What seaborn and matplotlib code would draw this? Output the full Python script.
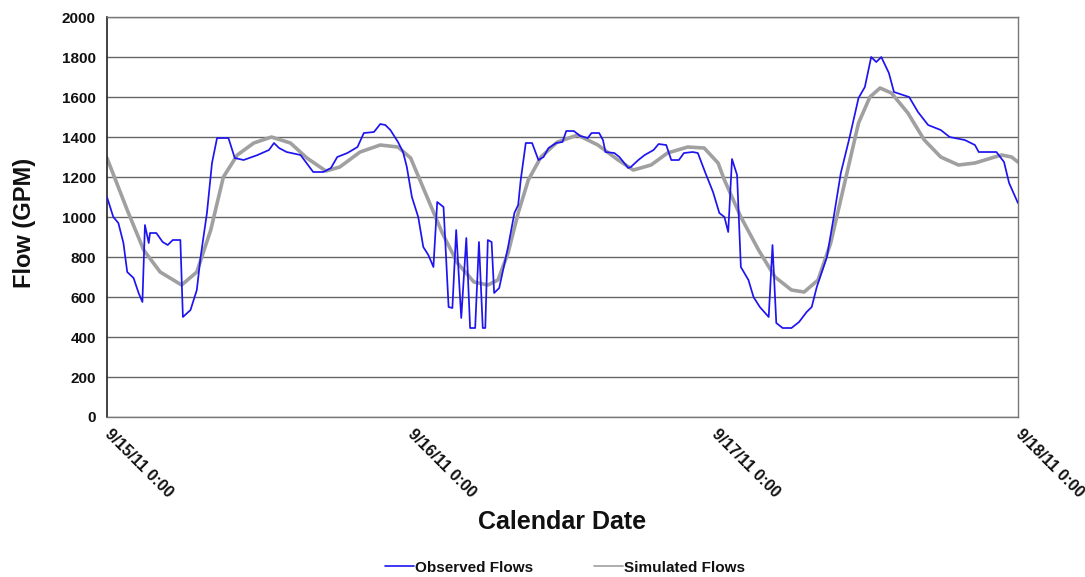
import matplotlib
matplotlib.use("Agg")
import matplotlib.pyplot as plt
import matplotlib.dates as mdates
import numpy as np
import pandas as pd
import seaborn as sns

# Observed flows: (hours after 9/15/11 0:00, GPM)
obs_hours = [0.0, 0.5, 0.9, 1.3, 1.6, 2.1, 2.5, 2.8, 3.0, 3.3, 3.4, 3.9, 4.4, 4.8, 5.2, 5.8,
             6.0, 6.6, 7.1, 7.4, 7.9, 8.3, 8.7, 9.6, 10.1, 10.8, 11.9, 12.8, 13.2, 13.6, 14.2,
             15.3, 16.3, 17.1, 17.7, 18.2, 19.0, 19.8, 20.3, 21.1, 21.6, 22.0, 22.4, 23.0, 23.4,
             23.7, 24.1, 24.6, 25.0, 25.4, 25.8, 26.1, 26.6, 27.0, 27.3, 27.6, 28.0, 28.4, 28.7,
             29.1, 29.4, 29.7, 29.9, 30.1, 30.4, 30.6, 31.0, 31.7, 32.2, 32.5, 32.7, 33.1, 33.6,
             34.1, 34.5, 34.9, 35.5, 36.0, 36.3, 36.9, 37.4, 38.0, 38.3, 38.9, 39.2, 39.4, 40.1,
             40.5, 41.2, 41.4, 42.0, 42.5, 43.2, 43.6, 44.2, 44.6, 45.2, 45.6, 46.3, 46.7, 47.3,
             47.9, 48.4, 48.8, 49.1, 49.4, 49.8, 50.1, 50.7, 51.1, 51.6, 52.3, 52.6, 52.9, 53.4,
             54.1, 54.7, 55.3, 55.7, 56.1, 56.9, 57.4, 58.0, 58.7, 59.4, 59.9, 60.4, 60.8, 61.2,
             61.8, 62.2, 63.4, 64.1, 64.9, 65.9, 66.6, 67.8, 68.6, 68.9, 70.3, 70.9, 71.3, 72.0]
obs_flow = [1100, 1000, 970, 870, 725, 695, 620, 575, 960, 870, 920, 920, 875, 860, 885, 885,
            500, 535, 635, 800, 1020, 1270, 1395, 1395, 1295, 1285, 1310, 1335, 1370, 1345, 1325,
            1310, 1225, 1225, 1245, 1300, 1320, 1350, 1420, 1425, 1465, 1460, 1435, 1375, 1325,
            1250, 1100, 1000, 850, 810, 750, 1075, 1050, 550, 545, 935, 495, 895, 445,
            445, 875, 445, 445, 885, 875, 620, 645, 850, 1020, 1060, 1185, 1370, 1370,
            1285, 1300, 1345, 1370, 1375, 1430, 1430, 1405, 1395, 1420, 1420, 1385, 1325, 1320,
            1300, 1245, 1250, 1285, 1310, 1335, 1365, 1360, 1285, 1285, 1320, 1325, 1320, 1220,
            1125, 1020, 1000, 925, 1290, 1210, 750, 685, 600, 550, 500, 860, 470, 445,
            445, 475, 525, 550, 650, 800, 985, 1220, 1400, 1595, 1650, 1800, 1775, 1800,
            1720, 1625, 1600, 1525, 1460, 1435, 1400, 1385, 1360, 1325, 1325, 1275, 1170, 1070]

# Simulated flows: (hours after 9/15/11 0:00, GPM)
sim_hours = [0.0, 1.6, 2.9, 4.2, 5.9, 7.1, 8.2, 9.2, 10.3, 11.6, 13.0, 14.5, 15.8, 17.3, 18.4,
             20.0, 21.6, 23.0, 24.0, 25.3, 26.5, 27.7, 29.0, 30.1, 30.9, 31.7, 32.5, 33.3, 34.3,
             35.6, 37.2, 38.8, 40.4, 41.6, 43.0, 44.3, 45.9, 47.2, 48.3, 48.8, 50.1, 51.5, 52.8,
             54.1, 55.1, 56.2, 57.2, 58.3, 59.4, 60.3, 61.1, 62.0, 63.3, 64.6, 65.9, 67.3, 68.6,
             69.9, 70.7, 71.5, 72.0]
sim_flow = [1295, 1035, 835, 725, 660, 725, 935, 1200, 1310, 1370, 1400, 1370, 1295, 1230, 1250,
            1325, 1360, 1350, 1295, 1100, 920, 770, 675, 660, 685, 820, 1020, 1185, 1300,
            1375, 1410, 1360, 1285, 1235, 1260, 1320, 1350, 1345, 1270, 1185, 1000, 835, 700,
            635, 625, 685, 870, 1170, 1470, 1600, 1645, 1620, 1520, 1385, 1300, 1260, 1270,
            1295, 1310, 1300, 1275]

y_ticks = list(range(0, 2001, 200))
start = pd.Timestamp("2011-09-15 00:00")
end = pd.Timestamp("2011-09-18 00:00")

obs = pd.DataFrame({"time": start + pd.to_timedelta(obs_hours, unit="h"), "flow": obs_flow})
sim = pd.DataFrame({"time": start + pd.to_timedelta(sim_hours, unit="h"), "flow": sim_flow})

sns.set_theme(style="white")
plt.rcParams["font.family"] = ["Liberation Sans", "DejaVu Sans"]

fig = plt.figure(figsize=(10.85, 5.77), dpi=100)
ax = fig.add_axes([0.0986, 0.2773, 0.8396, 0.6932])

ax.set_axisbelow(True)
for v in y_ticks:
    ax.axhline(v, color="#666666", lw=1.0, zorder=0)

sns.lineplot(data=sim, x="time", y="flow", ax=ax, color="#a0a0a0", lw=2.6,
             label="Simulated Flows", sort=False, zorder=2)
sns.lineplot(data=obs, x="time", y="flow", ax=ax, color="#1e14f0", lw=1.25,
             label="Observed Flows", sort=False, zorder=3)

ax.set_xlim(start, end)
ax.set_ylim(0, 2000)
ax.set_yticks(y_ticks)
ax.set_yticklabels([str(v) for v in y_ticks], fontsize=11, fontweight="bold", color="#111111")

ax.xaxis.set_major_locator(mdates.DayLocator())
ax.xaxis.set_minor_locator(mdates.HourLocator(byhour=[6, 12, 18]))
ax.xaxis.set_major_formatter(plt.FuncFormatter(
    lambda x, pos: f"{mdates.num2date(x).month}/{mdates.num2date(x).day}/11 0:00"))
for lbl in ax.get_xticklabels():
    lbl.set_rotation(-45)
    lbl.set_ha("left")
    lbl.set_va("center")
    lbl.set_rotation_mode("anchor")
    lbl.set_fontsize(11.5)
    lbl.set_fontweight("bold")
    lbl.set_color("#111111")

ax.tick_params(axis="x", which="major", length=4, width=1, color="#555555", direction="inout", pad=9)
ax.tick_params(axis="x", which="minor", length=4, width=1, color="#555555", direction="inout")
ax.tick_params(axis="y", which="major", length=4, width=1, color="#333333", direction="out", pad=4)

for side in ["top", "right", "bottom"]:
    ax.spines[side].set_color("#777777")
    ax.spines[side].set_linewidth(1.0)
ax.spines["left"].set_color("#222222")
ax.spines["left"].set_linewidth(1.2)

ax.set_xlabel("Calendar Date", fontsize=18, fontweight="bold", color="#111111")
ax.set_ylabel("Flow (GPM)", fontsize=17, fontweight="bold", color="#111111")
ax.xaxis.set_label_coords(0.5, -0.232)
ax.yaxis.set_label_coords(-0.09, 0.485)
ax.yaxis.label.set_va("center")

handles, labels = ax.get_legend_handles_labels()
ax.get_legend().remove()
order = [labels.index("Observed Flows"), labels.index("Simulated Flows")]
leg = fig.legend([handles[i] for i in order], [labels[i] for i in order],
                 loc="center", bbox_to_anchor=(0.521, 0.016), ncol=2, frameon=False,
                 handlelength=1.9, handletextpad=0.05, columnspacing=4.0,
                 borderaxespad=0, borderpad=0,
                 prop={"size": 11, "weight": "bold"})
for line in leg.get_lines():
    line.set_linewidth(1.2)
for t in leg.get_texts():
    t.set_color("#111111")

fig.savefig("out.png", dpi=100)
